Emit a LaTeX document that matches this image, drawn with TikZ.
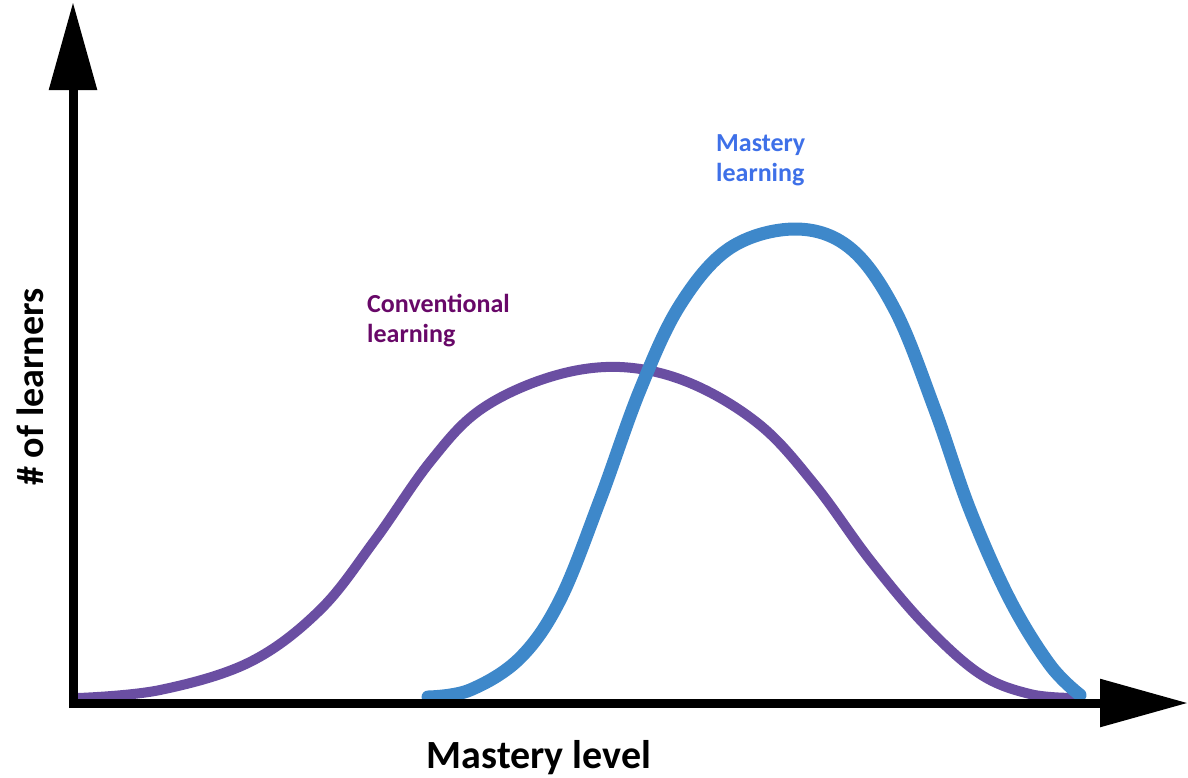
\documentclass[tikz,border=0pt]{standalone}
\usepackage{fontspec}
\setmainfont{Carlito}
\usetikzlibrary{arrows.meta}
\definecolor{convcol}{RGB}{106,78,162}
\definecolor{mastcol}{RGB}{62,136,202}
\definecolor{convtxt}{RGB}{104,8,104}
\definecolor{masttxt}{RGB}{62,112,232}
\tikzset{
  axis/.style={line width=9pt,-{Triangle[length=88pt,width=46pt]}},
  curve/.style={line width=#1,line cap=round,line join=round},
  lbl/.style={inner sep=0pt,align=left,anchor=base west,font=\bfseries\fontsize{26}{30}\selectfont}
}
\begin{document}
\begin{tikzpicture}[x=1pt,y=-1pt]
\useasboundingbox (0,0) rectangle (1188,777);
\coordinate (origin) at (73,708);
\coordinate (ytip) at (73,2);
\coordinate (xstart) at (69,703);
\coordinate (xtip) at (1188,703);
% curves
\draw[curve=10pt,convcol] plot[smooth,tension=0.6] coordinates {
 (78,698) (160,690) (250,662) (320,610) (375,540) (430,462) (480,410) (550,377) (620,367) (690,383) (760,425) (815,485) (870,560) (925,625) (980,674) (1030,694) (1075,698)};
\draw[curve=13pt,mastcol] plot[smooth,tension=0.6] coordinates {
 (428,697) (470,690) (520,658) (560,600) (600,500) (640,390) (680,305) (730,248) (795,229) (850,248) (895,310) (935,410) (970,510) (1010,600) (1050,665) (1080,695)};
% axes
\draw[axis] (origin) -- (ytip);
\draw[axis] (xstart) -- (xtip);
% labels
\node[lbl,text=convtxt] (conv) at (367,342) {Conventional\\learning};
\node[lbl,text=masttxt] (mast) at (716,181) {Mastery\\learning};
\node[inner sep=0pt,rotate=90,font=\bfseries\fontsize{38}{42}\selectfont] (ylab) at (30,387) {\# of learners};
\node[inner sep=0pt,anchor=base,font=\bfseries\fontsize{40}{44}\selectfont] (xlab) at (539,768) {Mastery level};
\end{tikzpicture}
\end{document}
